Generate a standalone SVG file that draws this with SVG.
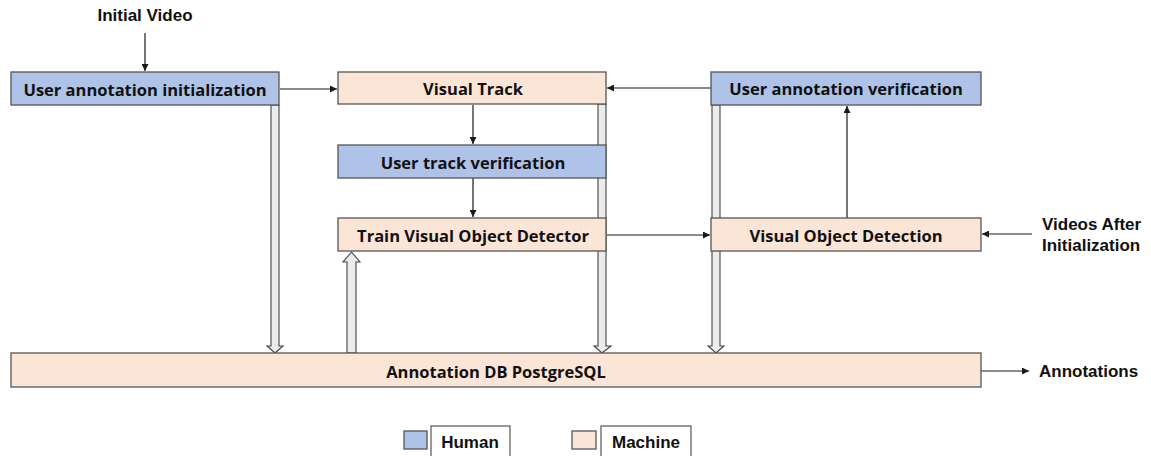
<svg xmlns="http://www.w3.org/2000/svg" width="1151" height="456" viewBox="0 0 1151 456">
  <defs>
    <marker id="arr" viewBox="0 0 10 10" refX="10" refY="5" markerWidth="7" markerHeight="7" markerUnits="userSpaceOnUse" orient="auto">
      <path d="M0,0 L10,5 L0,10 z" fill="#1a1a1a"/>
    </marker>
    <style>
      .human { fill: #AFC2E8; stroke: #555; stroke-width: 1.3; }
      .machine { fill: #FBE5D7; stroke: #555; stroke-width: 1.3; }
      .lbl { font-family: "Open Sans", "Liberation Sans", sans-serif; font-weight: bold; font-size: 16.5px; fill: #111; text-anchor: middle; dominant-baseline: central; }
      .ext { font-family: "Liberation Sans", Arial, sans-serif; font-weight: bold; font-size: 17px; fill: #111; }
      .flow { stroke: #1a1a1a; stroke-width: 1.2; fill: none; marker-end: url(#arr); }
      .hollow { fill: #ececec; stroke: #444; stroke-width: 1.1; }
      .legbox { fill: #fff; stroke: #555; stroke-width: 1.2; }
    </style>
  </defs>

  <!-- hollow data-flow arrows to and from the database (drawn beneath the boxes) -->
  <g id="db-links">
    <polygon class="hollow" points="271,105 279,105 279,346 283,346 275,353 267,346 271,346"/>
    <polygon class="hollow" points="347,353 356,353 356,262 360,262 351.5,252 343,262 347,262"/>
    <polygon class="hollow" points="598,104 606,104 606,346 611,346 602,353 594,346 598,346"/>
    <polygon class="hollow" points="712,105 720,105 720,346 724,346 716,353 708,346 712,346"/>
  </g>

  <g id="connectors">
    <line class="flow" x1="145" y1="33" x2="145" y2="71"/>
    <line class="flow" x1="280" y1="89" x2="337" y2="89"/>
    <line class="flow" x1="711" y1="88" x2="607" y2="88"/>
    <line class="flow" x1="473" y1="105" x2="473" y2="144"/>
    <line class="flow" x1="473" y1="178" x2="473" y2="217"/>
    <line class="flow" x1="607" y1="235" x2="710" y2="235"/>
    <line class="flow" x1="847" y1="218" x2="847" y2="106"/>
    <line class="flow" x1="1032" y1="234" x2="982" y2="234"/>
    <line class="flow" x1="981" y1="371" x2="1029" y2="371"/>
  </g>

  <g id="user-annotation-initialization">
    <rect class="human" x="11" y="72" width="268" height="33"/>
    <text class="lbl" x="145" y="89">User annotation initialization</text>
  </g>
  <g id="visual-track">
    <rect class="machine" x="338" y="72" width="268" height="32"/>
    <text class="lbl" x="473" y="88">Visual Track</text>
  </g>
  <g id="user-track-verification">
    <rect class="human" x="338" y="145" width="268" height="33"/>
    <text class="lbl" x="473" y="162">User track verification</text>
  </g>
  <g id="train-visual-object-detector">
    <rect class="machine" x="338" y="218" width="268" height="33"/>
    <text class="lbl" x="473" y="235">Train Visual Object Detector</text>
  </g>
  <g id="user-annotation-verification">
    <rect class="human" x="711" y="72" width="270" height="33"/>
    <text class="lbl" x="846" y="88">User annotation verification</text>
  </g>
  <g id="visual-object-detection">
    <rect class="machine" x="711" y="218" width="270" height="33"/>
    <text class="lbl" x="846" y="235">Visual Object Detection</text>
  </g>
  <g id="annotation-db">
    <rect class="machine" x="11" y="353" width="970" height="34"/>
    <text class="lbl" x="496" y="371">Annotation DB PostgreSQL</text>
  </g>

  <g id="external-labels">
    <text class="ext" x="145" y="21" text-anchor="middle">Initial Video</text>
    <text class="ext" x="1042" y="230">Videos After</text>
    <text class="ext" x="1042" y="251">Initialization</text>
    <text class="ext" x="1039" y="377">Annotations</text>
  </g>

  <g id="legend">
    <rect class="human" x="404" y="431" width="23" height="18"/>
    <rect class="legbox" x="431" y="426" width="79" height="40"/>
    <text class="ext" x="470" y="448" text-anchor="middle">Human</text>
    <rect class="machine" x="572" y="431" width="24" height="18"/>
    <rect class="legbox" x="601" y="426" width="90" height="40"/>
    <text class="ext" x="646" y="448" text-anchor="middle">Machine</text>
  </g>
</svg>
